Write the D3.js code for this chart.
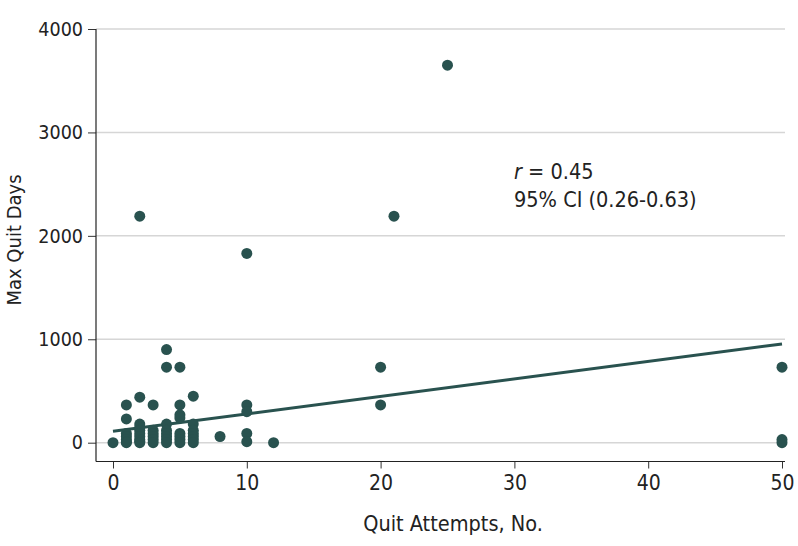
<!DOCTYPE html>
<html><head><meta charset="utf-8">
<script src="https://cdn.jsdelivr.net/npm/d3@7"></script>
<style>
html,body{margin:0;padding:0;background:#fff;}
text{font-family:"DejaVu Sans Condensed","DejaVu Sans",sans-serif;}
</style></head>
<body><svg id="chart" width="798" height="546"></svg>
<script>
const quitAttempts = [0,
  1,1,1,1,1,1,1,
  2,2,2,2,2,2,2,2,2,2,
  3,3,3,3,3,3,
  4,4,4,4,4,4,4,4,
  5,5,5,5,5,5,5,5,
  6,6,6,6,6,6,6,
  8,
  10,10,10,10,10,
  12,
  20,20,
  21,
  25,
  50,50,50];
const maxQuitDays = [0,
  365,230,90,60,30,7,0,
  2190,440,180,150,120,90,60,30,14,0,
  365,120,90,60,30,0,
  900,730,180,120,90,60,30,0,
  730,365,270,240,90,60,30,0,
  450,180,120,90,60,30,0,
  60,
  1830,365,300,90,10,
  0,
  730,365,
  2190,
  3650,
  730,30,0];
const fitX = [0, 50];
const fitY = [110, 955];
const xTicks = [0,10,20,30,40,50];
const yTicks = [0,1000,2000,3000,4000];
const xTitle = "Quit Attempts, No.";
const yTitle = "Max Quit Days";

const svg = d3.select("#chart");
const color = "#29524f";
const x = d3.scaleLinear().domain([0,50]).range([113,782]);
const y = d3.scaleLinear().domain([0,4000]).range([442.7,29]);
const axisLeftX = 96, axisBottomY = 461.5, rightEnd = 785;

// gridlines
svg.append("g").selectAll("line").data(yTicks).join("line")
  .attr("x1", axisLeftX).attr("x2", rightEnd)
  .attr("y1", d=>y(d)).attr("y2", d=>y(d))
  .attr("stroke","#d6d6d6").attr("stroke-width",1.5);

// y axis
const ya = svg.append("g").attr("transform",`translate(${axisLeftX},0)`)
  .call(d3.axisLeft(y).tickValues(yTicks).tickSize(8).tickPadding(5).tickFormat(d3.format("d")));
ya.select(".domain").remove();
ya.selectAll(".tick line").attr("stroke","#333");
ya.selectAll("text").attr("font-size",19.5).attr("fill","#222");
svg.append("line").attr("x1",axisLeftX).attr("x2",axisLeftX).attr("y1",y(4000)).attr("y2",axisBottomY)
  .attr("stroke","#222").attr("stroke-width",1.2);

// x axis
const xa = svg.append("g").attr("transform",`translate(0,${axisBottomY})`)
  .call(d3.axisBottom(x).tickValues(xTicks).tickSize(7).tickPadding(7).tickFormat(d3.format("d")));
xa.select(".domain").remove();
xa.selectAll(".tick line").attr("stroke","#333");
xa.selectAll("text").attr("font-size",21).attr("fill","#222");
svg.append("line").attr("x1",axisLeftX).attr("x2",rightEnd).attr("y1",axisBottomY).attr("y2",axisBottomY)
  .attr("stroke","#222").attr("stroke-width",1.2);

// titles
svg.append("text").attr("x",453).attr("y",531).attr("text-anchor","middle")
  .attr("font-size",21.5).attr("fill","#222").text(xTitle);
svg.append("text").attr("transform","translate(21,240) rotate(-90)").attr("text-anchor","middle")
  .attr("font-size",20).attr("fill","#222").text(yTitle);

// regression line
svg.append("path").datum(fitX.map((d,i)=>[d,fitY[i]]))
  .attr("d", d3.line().x(d=>x(d[0])).y(d=>y(d[1])))
  .attr("fill","none").attr("stroke",color).attr("stroke-width",3);

// points
svg.append("g").selectAll("circle").data(quitAttempts.map((d,i)=>[d,maxQuitDays[i]])).join("circle")
  .attr("cx", d=>x(d[0])).attr("cy", d=>y(d[1])).attr("r",5.5).attr("fill",color);

// annotation
const ann = svg.append("text").attr("x",514).attr("y",179).attr("font-size",21.5).attr("fill","#222");
ann.append("tspan").attr("font-style","italic").text("r");
ann.append("tspan").text(" = 0.45");
svg.append("text").attr("x",514).attr("y",207).attr("font-size",21.5).attr("fill","#222").text("95% CI (0.26-0.63)");
</script></body></html>
